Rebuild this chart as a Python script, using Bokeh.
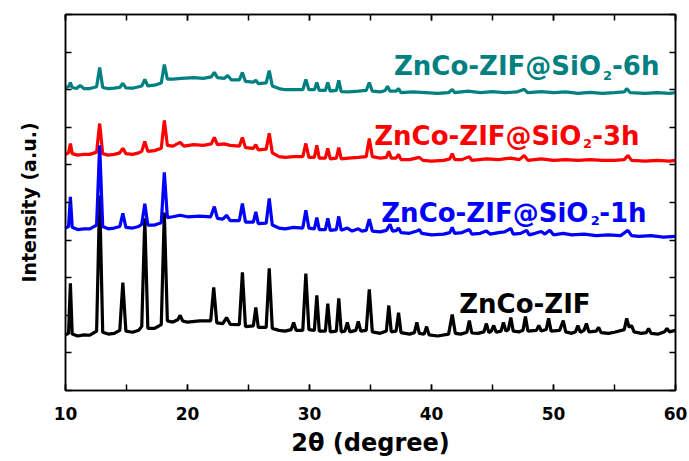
from bokeh.plotting import figure
from bokeh.models import LinearAxis, SingleIntervalTicker, Range1d, CustomLabelingPolicy
from bokeh.core.properties import value
from bokeh.embed import file_html
from bokeh.resources import INLINE

# --- XRD patterns: 2-theta (degree) and stacked intensity (a.u.) ---
theta_zif = [10.0, 10.25, 10.4, 10.55, 11.0, 11.5, 12.0, 12.55, 12.8, 13.05, 13.5, 14.0, 14.45, 14.7, 14.95,
             15.5, 16.0, 16.25, 16.5, 16.75, 17.3, 17.85, 18.1, 18.35, 18.8, 19.2, 19.4, 19.6, 20.0, 21.0,
             21.9, 22.15, 22.4, 22.9, 23.2, 23.5, 24.25, 24.5, 24.75, 25.4, 25.6, 25.8, 26.45, 26.7, 26.95,
             27.5, 28.0, 28.5, 28.7, 28.9, 29.45, 29.7, 29.95, 30.4, 30.6, 30.8, 31.3, 31.5, 31.7, 32.2,
             32.4, 32.6, 32.9, 33.1, 33.3, 33.8, 34.0, 34.2, 34.65, 34.9, 35.15, 35.8, 36.3, 36.5, 36.7,
             37.1, 37.3, 37.5, 38.2, 38.6, 38.8, 39.0, 39.4, 39.6, 39.8, 40.5, 41.4, 41.7, 41.95, 42.4,
             42.9, 43.1, 43.3, 43.8, 44.3, 44.5, 44.7, 44.9, 45.1, 45.3, 45.7, 45.9, 46.1, 46.3, 46.5,
             46.7, 47.2, 47.5, 47.7, 47.9, 48.6, 48.8, 49.0, 49.4, 49.6, 49.8, 50.5, 50.8, 51.0, 51.5,
             51.8, 52.0, 52.2, 52.5, 52.7, 52.9, 53.5, 53.7, 53.9, 54.5, 55.0, 55.8, 56.0, 56.2, 56.4,
             56.6, 57.2, 57.6, 57.8, 58.0, 58.6, 59.1, 59.3, 59.5, 60.0]
int_zif = [148, 152, 285, 150, 145, 148, 147, 158, 519, 155, 150, 152, 160, 287, 158,
           155, 160, 170, 458, 165, 165, 175, 473, 185, 182, 188, 200, 185, 182, 185,
           185, 274, 180, 178, 194, 176, 175, 314, 170, 172, 221, 168, 168, 325, 165,
           160, 158, 162, 181, 160, 160, 311, 162, 160, 253, 158, 158, 231, 156, 158,
           245, 156, 158, 181, 156, 160, 184, 158, 160, 269, 156, 152, 158, 226, 156,
           158, 207, 154, 150, 154, 181, 152, 150, 170, 148, 145, 150, 202, 152, 150,
           155, 186, 153, 152, 156, 178, 154, 158, 173, 155, 158, 181, 158, 162, 194,
           158, 156, 160, 197, 158, 160, 173, 158, 162, 192, 158, 160, 186, 156, 152,
           156, 173, 155, 160, 178, 156, 158, 168, 154, 152, 155, 162, 192, 168, 173,
           156, 152, 154, 165, 152, 150, 156, 165, 156, 160]

theta_1h = [10.0, 10.25, 10.4, 10.55, 11.0, 11.5, 12.0, 12.55, 12.8, 13.05, 13.5, 14.0, 14.45, 14.7, 14.95,
            15.5, 16.0, 16.25, 16.5, 16.75, 17.3, 17.85, 18.1, 18.35, 18.8, 19.4, 20.0, 21.0, 21.9, 22.2,
            22.45, 22.9, 23.2, 23.5, 24.25, 24.5, 24.75, 25.4, 25.6, 25.8, 26.45, 26.7, 26.95, 27.5, 28.0,
            28.7, 29.45, 29.7, 29.95, 30.4, 30.6, 30.8, 31.3, 31.5, 31.7, 32.2, 32.4, 32.6, 33.1, 33.5,
            34.0, 34.3, 34.65, 34.9, 35.15, 35.8, 36.3, 36.6, 36.8, 37.1, 37.3, 37.5, 38.2, 38.8, 39.0,
            39.2, 40.0, 41.0, 41.5, 41.7, 41.9, 42.5, 43.1, 43.3, 44.0, 44.5, 44.8, 45.5, 46.0, 46.5,
            46.7, 47.3, 47.8, 48.0, 48.5, 49.0, 49.3, 49.7, 50.0, 50.8, 51.5, 52.5, 53.5, 54.5, 55.5,
            56.1, 56.4, 57.0, 58.0, 59.0, 60.0]
int_1h = [432, 436, 515, 434, 428, 430, 430, 440, 652, 436, 430, 432, 436, 471, 434,
          432, 436, 442, 497, 440, 440, 446, 580, 460, 462, 466, 462, 464, 462, 489,
          458, 456, 466, 452, 452, 497, 448, 448, 475, 444, 445, 511, 440, 432, 430,
          434, 432, 479, 432, 430, 460, 428, 428, 458, 426, 428, 463, 426, 432, 424,
          430, 424, 426, 456, 424, 422, 426, 442, 424, 425, 432, 420, 418, 424, 428,
          418, 414, 416, 420, 434, 418, 420, 428, 416, 418, 424, 416, 420, 422, 431,
          416, 418, 426, 414, 418, 423, 416, 426, 414, 418, 414, 416, 412, 414, 412,
          426, 412, 410, 412, 408, 410]

theta_3h = [10.0, 10.25, 10.4, 10.55, 11.0, 11.5, 12.0, 12.55, 12.8, 13.05, 13.5, 14.0, 14.45, 14.7, 14.95,
            15.5, 16.0, 16.25, 16.5, 16.75, 17.3, 17.85, 18.1, 18.35, 18.8, 19.4, 19.7, 20.5, 21.3, 21.95,
            22.2, 22.45, 23.0, 23.5, 24.25, 24.5, 24.75, 25.4, 25.6, 25.8, 26.45, 26.7, 26.95, 27.5, 28.0,
            28.7, 29.45, 29.7, 29.95, 30.4, 30.6, 30.8, 31.3, 31.5, 31.7, 32.2, 32.4, 32.6, 33.2, 34.0,
            34.65, 34.9, 35.15, 35.8, 36.3, 36.5, 36.7, 37.1, 37.3, 37.5, 38.2, 39.0, 39.3, 40.0, 41.0,
            41.5, 41.7, 41.9, 42.5, 43.1, 43.3, 44.5, 45.5, 46.5, 47.2, 47.6, 47.9, 49.0, 50.0, 51.0,
            52.0, 53.0, 54.0, 55.0, 55.8, 56.1, 56.4, 57.5, 58.5, 59.5, 60.0]
int_3h = [628, 632, 657, 630, 626, 628, 628, 634, 710, 630, 626, 628, 632, 644, 630,
          628, 632, 636, 662, 636, 638, 644, 718, 652, 650, 660, 650, 654, 652, 656,
          673, 654, 656, 652, 650, 673, 646, 644, 654, 640, 642, 684, 632, 622, 620,
          622, 622, 657, 620, 620, 652, 618, 618, 644, 616, 618, 646, 616, 618, 620,
          622, 670, 622, 618, 620, 636, 618, 618, 628, 614, 614, 620, 612, 610, 612,
          616, 630, 614, 614, 622, 612, 616, 614, 618, 614, 625, 612, 616, 612, 614,
          612, 614, 612, 612, 614, 625, 612, 610, 612, 610, 612]

theta_6h = [10.0, 10.25, 10.4, 10.55, 10.9, 11.2, 11.5, 12.0, 12.55, 12.8, 13.05, 13.5, 14.0, 14.45, 14.7,
            14.95, 15.5, 16.0, 16.25, 16.5, 16.75, 17.3, 17.85, 18.1, 18.35, 18.8, 19.5, 20.5, 21.3, 21.95,
            22.2, 22.45, 23.0, 23.3, 23.6, 24.25, 24.5, 24.75, 25.4, 25.6, 25.8, 26.45, 26.7, 26.95, 27.5,
            28.0, 28.7, 29.45, 29.7, 29.95, 30.4, 30.6, 30.8, 31.3, 31.5, 31.7, 32.2, 32.4, 32.6, 33.2,
            34.0, 34.65, 34.9, 35.15, 35.8, 36.2, 36.4, 36.6, 37.1, 37.3, 37.5, 38.5, 39.5, 40.5, 41.4,
            41.7, 41.9, 43.0, 44.0, 45.0, 46.0, 47.0, 47.6, 47.9, 49.0, 50.0, 51.0, 52.0, 53.0, 54.0,
            55.0, 55.8, 56.0, 56.3, 57.5, 58.5, 59.5, 60.0]
int_6h = [806, 808, 819, 806, 803, 811, 803, 803, 808, 859, 806, 803, 804, 806, 817,
          805, 804, 808, 810, 827, 810, 812, 818, 867, 828, 828, 830, 832, 830, 834,
          846, 832, 830, 838, 826, 826, 846, 822, 820, 825, 816, 818, 851, 810, 803,
          800, 800, 800, 827, 800, 800, 819, 798, 798, 819, 796, 798, 825, 795, 794,
          796, 798, 819, 796, 794, 798, 809, 796, 796, 803, 792, 794, 792, 790, 792,
          801, 792, 796, 792, 795, 792, 794, 801, 792, 795, 792, 794, 790, 793, 790,
          792, 794, 803, 792, 790, 792, 790, 792]

FONT = "DejaVu Sans"

p = figure(width=689, height=461,
           x_range=Range1d(10, 60), y_range=Range1d(0, 1000),
           output_backend="svg", toolbar_location=None,
           min_border_left=65, min_border_right=14, min_border_top=14, min_border_bottom=71)
p.grid.visible = False
p.background_fill_color = "white"
p.border_fill_color = "white"
p.outline_line_color = "black"
p.outline_line_width = 1.5

# patterns, drawn bottom to top
p.line(theta_zif, int_zif, line_color="black", line_width=3.2)
p.line(theta_3h, int_3h, line_color="#FF0000", line_width=3.2)
p.line(theta_6h, int_6h, line_color="#008080", line_width=3.2)
p.line(theta_1h, int_1h, line_color="#0000FF", line_width=3.2)

# sample names
def sample_label(x_main, y_main, x_sub, y_sub, x_tail, tail, color):
    p.text(x=[x_main], y=[y_main], text=["ZnCo-ZIF@SiO"], text_color=color,
           text_font=value(FONT), text_font_style="bold", text_font_size="26px",
           text_align="right", text_baseline="alphabetic")
    p.text(x=[x_sub], y=[y_sub], text=["2"], text_color=color,
           text_font=value(FONT), text_font_style="bold", text_font_size="13px",
           text_align="left", text_baseline="alphabetic")
    p.text(x=[x_tail], y=[y_main], text=[tail], text_color=color,
           text_font=value(FONT), text_font_style="bold", text_font_size="26px",
           text_align="left", text_baseline="alphabetic")

sample_label(53.9, 864, 54.05, 838, 54.8, "-6h", "#008080")
sample_label(52.28, 678, 52.42, 657, 53.17, "-3h", "#FF0000")
sample_label(52.86, 473, 53.05, 452, 53.74, "-1h", "#0000FF")
p.text(x=[42.27], y=[231], text=["ZnCo-ZIF"], text_color="black",
       text_font=value(FONT), text_font_style="bold", text_font_size="26px",
       text_align="left", text_baseline="alphabetic")

# axes: ticks pointing inward on all four sides; only the bottom axis is labelled
bottom = p.below[0]
left = p.left[0]
bottom.ticker = SingleIntervalTicker(interval=10, num_minor_ticks=2)
left.ticker = SingleIntervalTicker(interval=100, num_minor_ticks=0)
bottom.axis_label = "2θ (degree)"
left.axis_label = "Intensity (a.u.)"

top = LinearAxis(ticker=SingleIntervalTicker(interval=10, num_minor_ticks=2))
right = LinearAxis(ticker=SingleIntervalTicker(interval=100, num_minor_ticks=0))
p.add_layout(top, "above")
p.add_layout(right, "right")

no_labels = CustomLabelingPolicy(code="""
    const ids = Array.from(indices)
    for (const i of ids) indices.unset(i)
    return indices
""")

for ax in [bottom, left, top, right]:
    ax.axis_line_color = "black"
    ax.axis_line_width = 1.5
    ax.major_tick_line_color = "black"
    ax.major_tick_line_width = 1.5
    ax.minor_tick_line_color = "black"
    ax.minor_tick_line_width = 1.5
    ax.major_tick_in = 6
    ax.major_tick_out = 0
    ax.minor_tick_in = 6
    ax.minor_tick_out = 0

for ax in [left, top, right]:
    ax.major_label_policy = no_labels
    ax.major_label_standoff = 0
    ax.major_label_text_font_size = "1px"

bottom.major_label_text_font = FONT
bottom.major_label_text_font_style = "bold"
bottom.major_label_text_font_size = "17px"
bottom.major_label_text_color = "black"
bottom.major_label_standoff = 16
bottom.axis_label_text_font = FONT
bottom.axis_label_text_font_style = "bold"
bottom.axis_label_text_font_size = "24px"
bottom.axis_label_text_color = "black"
bottom.axis_label_standoff = 6

left.axis_label_text_font = FONT
left.axis_label_text_font_style = "bold"
left.axis_label_text_font_size = "19px"
left.axis_label_text_color = "black"
left.axis_label_standoff = 20

open("out.html", "w").write(file_html(p, INLINE))
